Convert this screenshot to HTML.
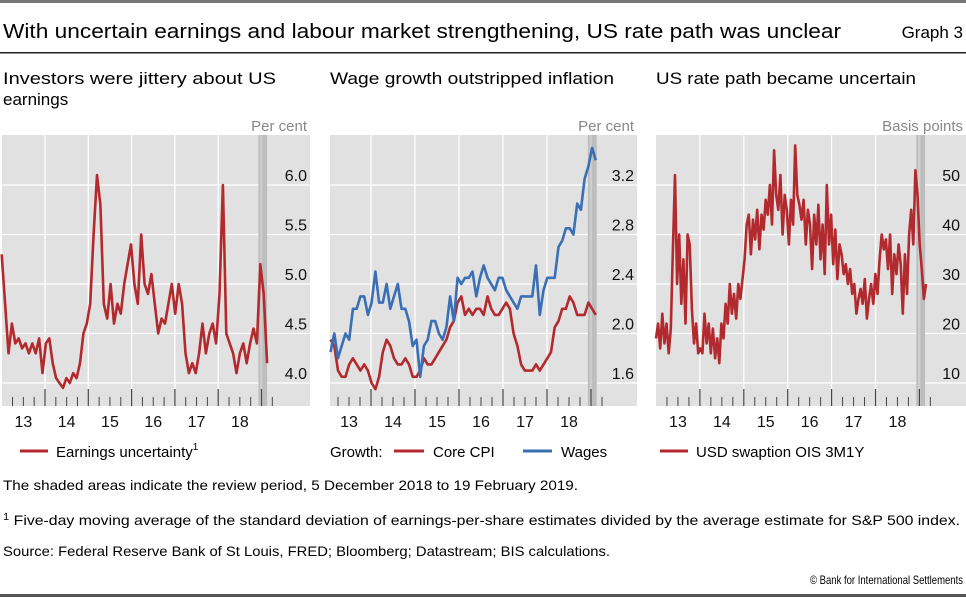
<!DOCTYPE html>
<html><head><meta charset="utf-8"><style>
body{margin:0;background:#fff}
svg{display:block;font-family:"Liberation Sans",sans-serif}
</style></head><body>
<svg id="s" width="966" height="597" viewBox="0 0 966 597">
<rect x="0" y="0" width="966" height="3" fill="#777"/>
<text x="3" y="38" font-size="20" textLength="838" lengthAdjust="spacingAndGlyphs">With uncertain earnings and labour market strengthening, US rate path was unclear</text>
<text x="963" y="38" font-size="17" text-anchor="end">Graph 3</text>
<rect x="0" y="52" width="966" height="1.5" fill="#222"/>
<text x="3" y="84" font-size="17" textLength="273" lengthAdjust="spacingAndGlyphs">Investors were jittery about US</text>
<text x="3" y="105" font-size="17">earnings</text>
<text x="330" y="84" font-size="17" textLength="284" lengthAdjust="spacingAndGlyphs">Wage growth outstripped inflation</text>
<text x="656" y="84" font-size="17" textLength="260" lengthAdjust="spacingAndGlyphs">US rate path became uncertain</text>
<g id="p1"></g>
<g id="p2"></g>
<g id="p3"></g>
<g font-size="15">
<line x1="20" y1="451" x2="48" y2="451" stroke="#b22a2e" stroke-width="3"/>
<text x="56" y="457">Earnings uncertainty<tspan font-size="10" dy="-7">1</tspan></text>
<text x="330" y="457">Growth:</text>
<line x1="394" y1="451" x2="424" y2="451" stroke="#b22a2e" stroke-width="3"/>
<text x="433" y="457">Core CPI</text>
<line x1="523" y1="451" x2="552" y2="451" stroke="#3a6fb5" stroke-width="3"/>
<text x="561" y="457">Wages</text>
<line x1="660" y1="451" x2="688" y2="451" stroke="#b22a2e" stroke-width="3"/>
<text x="696" y="457">USD swaption OIS 3M1Y</text>
</g>
<g font-size="14">
<text x="3" y="490" textLength="575" lengthAdjust="spacingAndGlyphs">The shaded areas indicate the review period, 5 December 2018 to 19 February 2019.</text>
<text x="3" y="525" textLength="957" lengthAdjust="spacingAndGlyphs"><tspan font-size="10" dy="-5">1</tspan><tspan dy="5">  Five-day moving average of the standard deviation of earnings-per-share estimates divided by the average estimate for S&amp;P 500 index.</tspan></text>
<text x="3" y="556" textLength="607" lengthAdjust="spacingAndGlyphs">Source: Federal Reserve Bank of St Louis, FRED; Bloomberg; Datastream; BIS calculations.</text>
<text x="963" y="584" font-size="12" text-anchor="end" textLength="153" lengthAdjust="spacingAndGlyphs">© Bank for International Settlements</text>
</g>
<rect x="0" y="594" width="966" height="3" fill="#555"/>
</svg>
<script>
const years = ["13","14","15","16","17","18"];
const earnTicks = [4.0,4.5,5.0,5.5,6.0];
const earnTickLabels = ["4.0","4.5","5.0","5.5","6.0"];
const earnings = [5.3,4.8,4.3,4.6,4.4,4.45,4.35,4.4,4.3,4.4,4.3,4.45,4.1,4.4,
 4.45,4.2,4.05,4.0,3.95,4.05,4.0,4.1,4.05,4.2,4.5,4.6,4.8,5.5,6.1,
 5.8,4.8,4.65,5.0,4.6,4.8,4.7,5.0,5.2,5.4,5.0,4.8,
 5.5,5.0,4.9,5.1,4.8,4.5,4.65,4.6,4.8,5.0,4.7,5.0,
 4.8,4.3,4.1,4.2,4.1,4.3,4.6,4.3,4.5,4.6,4.4,4.9,
 6.0,4.5,4.4,4.3,4.1,4.3,4.4,4.2,4.4,4.55,4.4,5.2,4.9,4.2];
const wageTicks = [1.6,2.0,2.4,2.8,3.2];
const wageTickLabels = ["1.6","2.0","2.4","2.8","3.2"];
const wages = [1.85,2.0,1.8,1.9,2.0,1.95,2.2,2.2,2.3,2.3,2.15,2.25,
 2.5,2.25,2.25,2.4,2.2,2.3,2.4,2.2,2.2,2.1,1.9,1.95,
 1.65,1.9,1.95,2.1,2.1,2.0,1.95,2.05,2.3,2.1,2.45,2.4,
 2.45,2.45,2.5,2.3,2.45,2.55,2.45,2.4,2.35,2.45,2.45,2.35,
 2.3,2.25,2.2,2.3,2.3,2.3,2.3,2.55,2.15,2.35,2.45,2.45,
 2.45,2.7,2.75,2.85,2.85,2.8,3.05,3.0,3.25,3.35,3.5,3.4];
const coreCpi = [1.95,1.9,1.7,1.65,1.65,1.75,1.8,1.75,1.7,1.75,1.7,1.6,
 1.55,1.65,1.85,1.95,1.9,1.8,1.75,1.75,1.8,1.75,1.65,1.65,
 1.7,1.8,1.75,1.75,1.8,1.85,1.9,1.95,2.05,2.1,2.25,2.3,
 2.15,2.2,2.15,2.2,2.2,2.15,2.3,2.2,2.15,2.15,2.2,2.25,
 2.2,2.0,1.9,1.75,1.7,1.7,1.7,1.75,1.7,1.75,1.8,1.85,
 2.05,2.1,2.2,2.2,2.3,2.25,2.15,2.15,2.15,2.25,2.2,2.15];
const rateTicks = [10,20,30,40,50];
const rateTickLabels = ["10","20","30","40","50"];
const swaption = [19,22,17,24,18,22,16,21,37,52,30,40,26,35,22,40,38,25,18,22,16,17,
 16,24,18,22,16,21,15,19,14,22,19,26,22,30,24,28,23,30,27,31,35,42,
 44,36,43,39,45,37,44,41,47,44,50,42,57,48,45,52,40,48,45,38,47,42,
 58,48,46,43,47,38,45,42,33,44,38,46,35,42,32,50,38,44,34,41,31,38,
 36,32,34,30,33,28,30,24,27,29,26,31,23,27,30,26,32,28,35,40,37,39,
 33,40,28,36,32,38,34,24,36,28,40,45,38,53,48,38,33,27,30];

const NS="http://www.w3.org/2000/svg";
function mk(parent,tag,attrs){const e=document.createElementNS(NS,tag);for(const k in attrs)e.setAttribute(k,attrs[k]);parent.appendChild(e);return e;}

function panel(id,c){
  const g=document.getElementById(id);
  const x=t=>c.x0+(t-2013)*c.yw;
  const y=v=>c.gy0+(v-c.v0)*(c.gy1-c.gy0)/(c.v1-c.v0);
  const bg=mk(g,'rect',{x:c.L,y:135,width:c.R-c.L,height:271,fill:'#e1e1e1'});
  
  
  for(let i=0;i<c.ticks.length;i++){
    const gl=mk(g,'line',{x1:c.L,x2:c.R,y1:y(c.ticks[i]),y2:y(c.ticks[i]),stroke:'#fff','stroke-width':1.3});
    
    
  }
  for(let k=1;k<years.length;k++){
    const vl=mk(g,'line',{x1:x(2013+k),x2:x(2013+k),y1:135,y2:406,stroke:'#fff','stroke-width':1.3});
    
    
  }
  const sh=mk(g,'rect',{x:x(2018.93),y:135,width:x(2019.13)-x(2018.93),height:271,fill:'#bdbdbd'});
  
  
  mk(g,'rect',{x:x(2018.97),y:135,width:x(2019.02)-x(2018.97),height:271,fill:'#e1e1e1',opacity:0.5});
  for(let i=0;i<c.ticks.length;i++){
    const tl=mk(g,'text',{x:c.lx,y:y(c.ticks[i])-4,'font-size':16,'text-anchor':'end',fill:'#111'});
    tl.textContent=c.labels[i];
    
    
  }
  for(let q=1;q<=25;q++){
    const t=2013+q*0.25;const yr=q%4===0;
    const tk=mk(g,'line',{x1:x(t),x2:x(t),y1:yr?389:397,y2:406,stroke:'#444','stroke-width':yr?1.2:1});
    
    
  }
  for(let k=0;k<years.length;k++){
    const yl=mk(g,'text',{x:x(2013.5+k),y:427,'font-size':16,'text-anchor':'middle',fill:'#111'});
    yl.textContent=years[k];
    
    
  }
  const u=mk(g,'text',{x:c.R-3,y:131,'font-size':15,'text-anchor':'end',fill:'#888'});
  u.textContent=c.unit;
  
  
  c.series.forEach(s=>{
    const n=s.data.length;
    const pts=s.data.map((v,i)=>x(s.t0+i*(s.t1-s.t0)/(n-1)).toFixed(1)+','+y(v).toFixed(1)).join(' ');
    const pl=mk(g,'polyline',{points:pts,fill:'none',stroke:s.color,'stroke-width':2.6,'stroke-linejoin':'round'});
    
    
  });
}
panel('p1',{L:2,R:310,x0:1.7,yw:43.3,gy0:383,gy1:185,v0:4.0,v1:6.0,ticks:earnTicks,labels:earnTickLabels,lx:307,unit:'Per cent',
  series:[{name:'earnings-uncertainty-line',data:earnings,t0:2013.0,t1:2019.13,color:'#b22a2e'}]});
panel('p2',{L:330,R:637,x0:327,yw:44,gy0:383,gy1:185,v0:1.6,v1:3.2,ticks:wageTicks,labels:wageTickLabels,lx:634,unit:'Per cent',
  series:[{name:'core-cpi-line',data:coreCpi,t0:2013.08,t1:2019.11,color:'#b22a2e'},
          {name:'wages-line',data:wages,t0:2013.08,t1:2019.11,color:'#3a6fb5'}]});
panel('p3',{L:656,R:966,x0:656,yw:43.9,gy0:383,gy1:185,v0:10,v1:50,ticks:rateTicks,labels:rateTickLabels,lx:960,unit:'Basis points',
  series:[{name:'usd-swaption-line',data:swaption,t0:2013.0,t1:2019.15,color:'#b22a2e'}]});
</script>
</body></html>
